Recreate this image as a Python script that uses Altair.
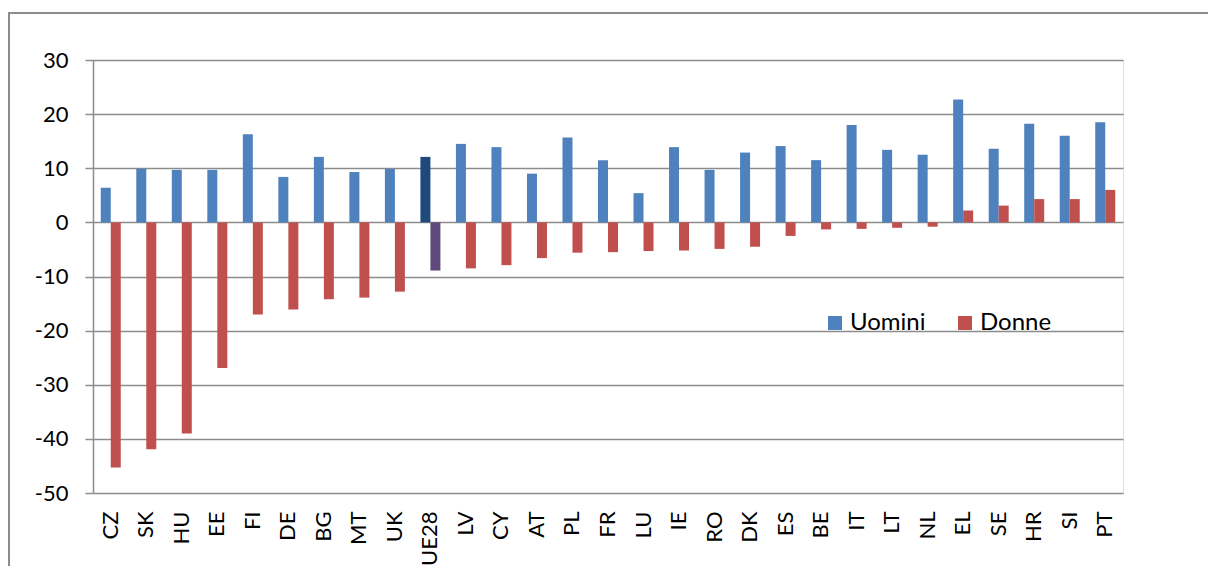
import altair as alt
import pandas as pd

countries = ["CZ","SK","HU","EE","FI","DE","BG","MT","UK","UE28","LV","CY","AT","PL","FR",
             "LU","IE","RO","DK","ES","BE","IT","LT","NL","EL","SE","HR","SI","PT"]
uomini = [6.4, 9.9, 9.7, 9.7, 16.3, 8.4, 12.1, 9.3, 9.9, 12.1, 14.5, 13.9, 9.0, 15.7, 11.5,
          5.4, 13.9, 9.7, 12.9, 14.1, 11.5, 18.0, 13.4, 12.5, 22.7, 13.6, 18.2, 16.0, 18.5]
donne = [-45.3, -41.9, -39.0, -26.9, -17.0, -16.1, -14.2, -13.9, -12.8, -8.9, -8.5, -7.9, -6.6, -5.6, -5.5,
         -5.3, -5.2, -4.9, -4.5, -2.5, -1.3, -1.2, -1.0, -0.8, 2.2, 3.1, 4.3, 4.3, 6.0]
series = ["Uomini", "Donne"]
y_ticks = [-50, -40, -30, -20, -10, 0, 10, 20, 30]

rows = []
for c, u, d in zip(countries, uomini, donne):
    for s, v in ((series[0], u), (series[1], d)):
        key = s + (" UE28" if c == "UE28" else "")
        rows.append({"paese": c, "serie": s, "valore": v, "chiave": key})
df = pd.DataFrame(rows)

FONT = "Lato"
color_scale = alt.Scale(
    domain=["Uomini", "Donne", "Uomini UE28", "Donne UE28"],
    range=["#4F81BD", "#C0504D", "#1F497D", "#604A7B"],
)

bars = alt.Chart(df).mark_bar(size=10).encode(
    x=alt.X("paese:N", sort=countries, title=None,
            scale=alt.Scale(paddingInner=0.437, paddingOuter=0.2185),
            axis=alt.Axis(labelAngle=270, labelAlign="right", labelBaseline="middle",
                          domain=False, ticks=False, grid=False, labelPadding=18,
                          labelFont=FONT, labelFontSize=22, labelColor="#000000")),
    xOffset=alt.XOffset("serie:N", sort=series, scale=alt.Scale(paddingInner=0, paddingOuter=0)),
    y=alt.Y("valore:Q", title=None,
            scale=alt.Scale(domain=[-50, 30], nice=False, zero=False),
            axis=alt.Axis(values=y_ticks, grid=True, gridColor="#8c8c8c", gridWidth=1.5,
                          domain=True, domainColor="#8c8c8c", domainWidth=1.5,
                          ticks=True, tickSize=8, tickColor="#8c8c8c", tickWidth=1.5,
                          labelExpr="'' + datum.value",
                          labelPadding=17, labelFont=FONT, labelFontSize=22,
                          labelColor="#000000")),
    color=alt.Color("chiave:N", scale=color_scale,
                    legend=alt.Legend(values=["Uomini", "Donne"], title=None,
                                      orient="none", legendX=730, legendY=251,
                                      direction="horizontal", symbolType="square",
                                      symbolSize=196, symbolStrokeWidth=0,
                                      labelFont=FONT, labelFontSize=24, labelColor="#000000",
                                      labelOffset=3, columnPadding=27)),
)

frame = alt.Chart(df).mark_rect(fill=None, stroke="#8c8c8c", strokeWidth=1.5).encode(
    x=alt.value(-84), x2=alt.value(1125), y=alt.value(-47), y2=alt.value(520)
)

chart = alt.layer(frame, bars).properties(
    width=1030, height=433,
    padding={"left": 93, "top": 60, "right": 85, "bottom": 73},
    autosize=alt.AutoSizeParams(type="none"),
).configure_view(stroke=None).configure(background="#ffffff")

chart.save("out.html", embed_options={"renderer": "svg", "actions": False})
